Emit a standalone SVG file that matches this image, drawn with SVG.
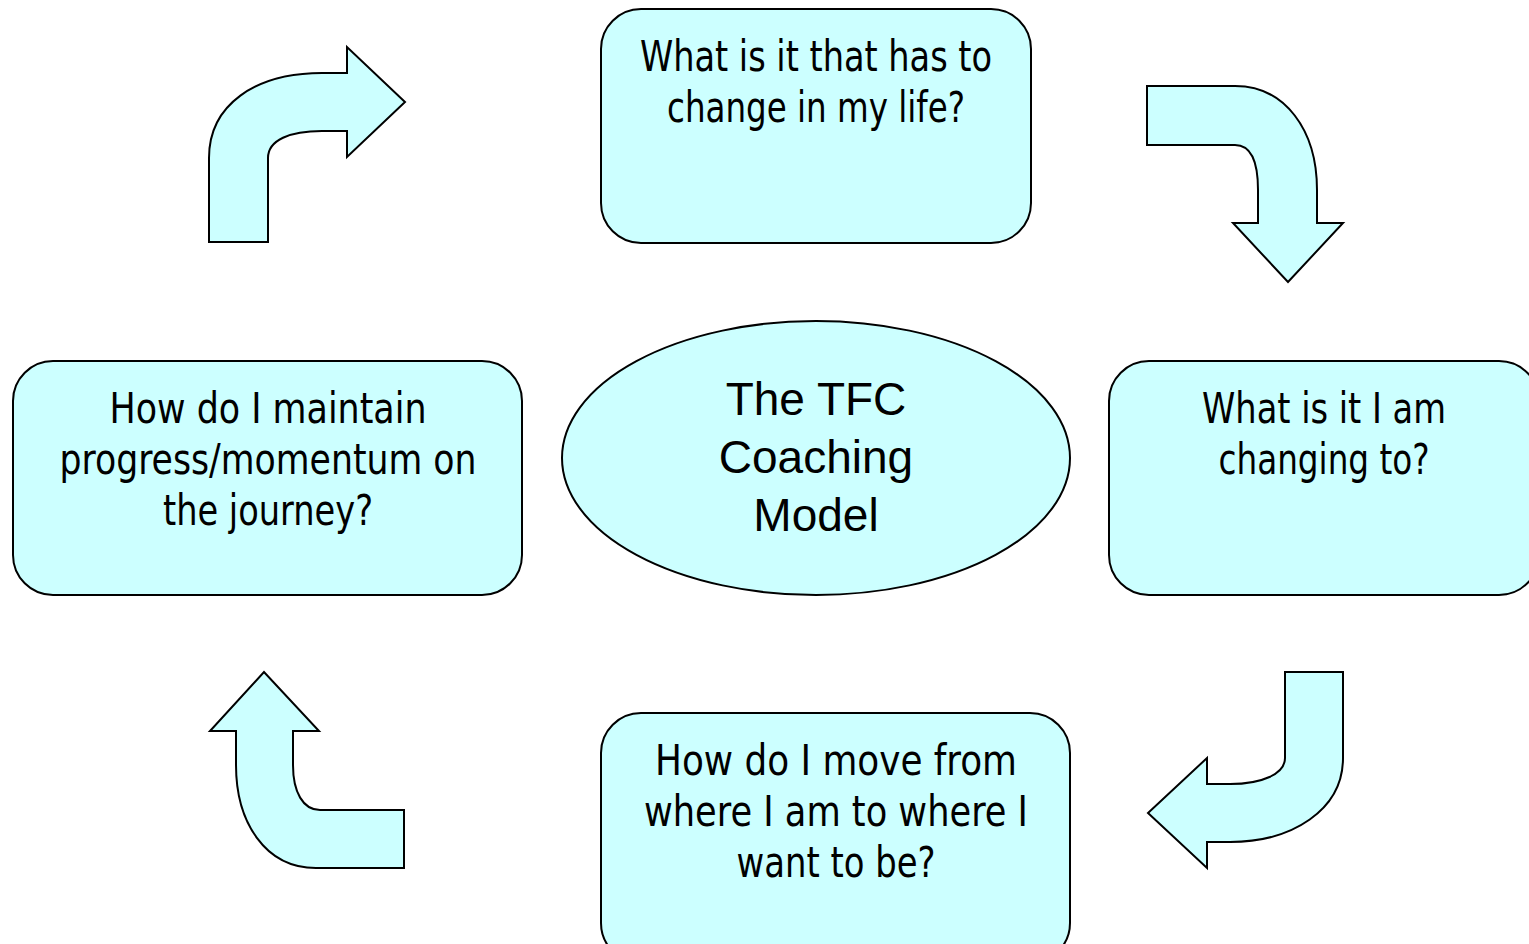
<svg xmlns="http://www.w3.org/2000/svg" width="1529" height="944" viewBox="0 0 1529 944">
  <style>
    .shape { fill: #CCFFFF; stroke: #000000; stroke-width: 2; stroke-linejoin: miter; }
    .q { font-family: "DejaVu Sans Condensed", "Liberation Sans", sans-serif; font-size: 43px; fill: #000000; text-anchor: middle; }
    .title { font-family: "Liberation Sans", Arial, sans-serif; font-size: 46px; fill: #000000; text-anchor: middle; }
  </style>
  <rect width="1529" height="944" fill="#FFFFFF"/>

  <!-- curved block arrows linking the questions -->
  <g id="connectors">
    <path id="arrow-left-to-top" class="shape" d="M209,242 L209,158 C209,105 255,73 322,73 L347,73 L347,47 L405,102 L347,157 L347,131 L322,131 C290,131 268,140 268,158 L268,242 Z"/>
    <path id="arrow-top-to-right" class="shape" d="M1147,86 L1235,86 C1285,86 1317,130 1317,190 L1317,223 L1343,223 L1288,282 L1233,223 L1258,223 L1258,190 C1258,160 1250,145 1235,145 L1147,145 Z"/>
    <path id="arrow-right-to-bottom" class="shape" d="M1285,672 L1343,672 L1343,758 C1343,810 1292,842 1230,842 L1207,842 L1207,868 L1148,813 L1207,758 L1207,784 L1230,784 C1262,784 1285,774 1285,758 Z"/>
    <path id="arrow-bottom-to-left" class="shape" d="M404,868 L316,868 C265,868 236,822 236,765 L236,731 L210,731 L264,672 L319,731 L293,731 L293,765 C293,792 303,810 320,810 L404,810 Z"/>
  </g>

  <g id="node-centre">
    <ellipse class="shape" cx="816" cy="458" rx="254" ry="137"/>
    <text class="title" x="816" y="415">The TFC</text>
    <text class="title" x="816" y="473">Coaching</text>
    <text class="title" x="816" y="531">Model</text>
  </g>

  <g id="node-top">
    <rect class="shape" x="601" y="9" width="430" height="234" rx="40" ry="40"/>
    <text class="q" x="816" y="71" textLength="352" lengthAdjust="spacingAndGlyphs">What is it that has to</text>
    <text class="q" x="816" y="122" textLength="298" lengthAdjust="spacingAndGlyphs">change in my life?</text>
  </g>

  <g id="node-right">
    <rect class="shape" x="1109" y="361" width="430" height="234" rx="40" ry="40"/>
    <text class="q" x="1324" y="423" textLength="244" lengthAdjust="spacingAndGlyphs">What is it I am</text>
    <text class="q" x="1324" y="474" textLength="211" lengthAdjust="spacingAndGlyphs">changing to?</text>
  </g>

  <g id="node-bottom">
    <rect class="shape" x="601" y="713" width="469" height="250" rx="40" ry="40"/>
    <text class="q" x="836" y="775" textLength="362" lengthAdjust="spacingAndGlyphs">How do I move from</text>
    <text class="q" x="836" y="826" textLength="384" lengthAdjust="spacingAndGlyphs">where I am to where I</text>
    <text class="q" x="836" y="877" textLength="199" lengthAdjust="spacingAndGlyphs">want to be?</text>
  </g>

  <g id="node-left">
    <rect class="shape" x="13" y="361" width="509" height="234" rx="40" ry="40"/>
    <text class="q" x="268" y="423" textLength="317" lengthAdjust="spacingAndGlyphs">How do I maintain</text>
    <text class="q" x="268" y="474" textLength="417" lengthAdjust="spacingAndGlyphs">progress/momentum on</text>
    <text class="q" x="268" y="525" textLength="210" lengthAdjust="spacingAndGlyphs">the journey?</text>
  </g>
</svg>
